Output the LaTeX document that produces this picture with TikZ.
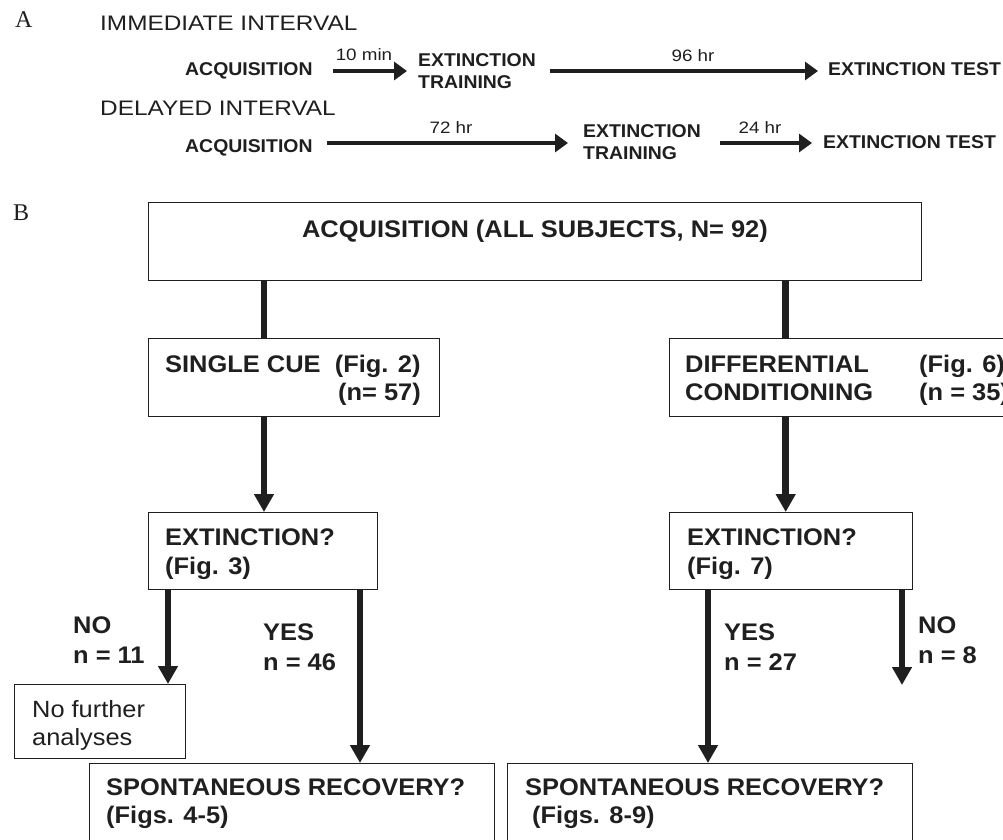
\documentclass[tikz,border=0pt]{standalone}
\usepackage{fontspec}
\setmainfont{Liberation Sans}
\newfontfamily\famA[FakeStretch=1.05]{Liberation Sans}
\newfontfamily\famB[FakeStretch=1.06]{Liberation Sans}
\newfontfamily\famH[FakeStretch=1.16]{Liberation Sans}
\newfontfamily\famL[FakeStretch=1.14]{Liberation Sans}
\newfontfamily\famN[FakeStretch=1.08]{Liberation Sans}
\newfontfamily\famS{Liberation Serif}
\newcommand\pafont{\famA\bfseries\fontsize{18.5}{22}\selectfont}
\newcommand\bbfont{\famB\bfseries\fontsize{24}{28}\selectfont}
\newcommand\hdfont{\famH\fontsize{21}{25}\selectfont}
\newcommand\lbfont{\famL\fontsize{16.5}{20}\selectfont}
\newcommand\nffont{\famN\fontsize{23.5}{28}\selectfont}
\newcommand\srfont{\famS\fontsize{24}{28}\selectfont}
\usetikzlibrary{arrows.meta}
\colorlet{ink}{black!88}
\tikzset{
  box/.style={draw=ink, line width=1.3pt, inner sep=0pt, anchor=north west},
  txt/.style={inner sep=0pt, anchor=base west, text=ink},
  txtc/.style={txt, anchor=base},
  txte/.style={txt, anchor=base east},
  arrA/.style={draw=ink, line width=3.5pt, -{Triangle[length=13pt,width=18pt]}},
  arrB/.style={draw=ink, line width=6.5pt, -{Triangle[length=18pt,width=19pt]}},
  lnB/.style={draw=ink, line width=6.5pt}
}
\begin{document}
\begin{tikzpicture}[x=1pt,y=-1pt]
\useasboundingbox (0,0) rectangle (1003,839);
\clip (0,0) rectangle (1003,839);

% ---------- Panel A ----------
\node[txt, font=\srfont] (labA) at (15,27) {A};
\node[txt, font=\hdfont] (imm) at (100,30) {IMMEDIATE INTERVAL};
\node[txt, font=\pafont] (acq1) at (185,75) {ACQUISITION};
\node[txtc, font=\lbfont] (l10) at (364,60) {10 min};
\node[txt, font=\pafont] (et1a) at (418,66) {EXTINCTION};
\node[txt, font=\pafont] (et1b) at (418,88) {TRAINING};
\node[txtc, font=\lbfont] (l96) at (693,61) {96 hr};
\node[txt, font=\pafont] (tst1) at (828,75) {EXTINCTION TEST};
\coordinate (a1s) at (333,71); \coordinate (a1e) at (407,71);
\coordinate (a2s) at (550,71); \coordinate (a2e) at (818,71);
\draw[arrA] (a1s) -- (a1e);
\draw[arrA] (a2s) -- (a2e);

\node[txt, font=\hdfont] (del) at (100,115) {DELAYED INTERVAL};
\node[txt, font=\pafont] (acq2) at (185,152) {ACQUISITION};
\node[txtc, font=\lbfont] (l72) at (451,133) {72 hr};
\node[txt, font=\pafont] (et2a) at (583,137) {EXTINCTION};
\node[txt, font=\pafont] (et2b) at (583,159) {TRAINING};
\node[txtc, font=\lbfont] (l24) at (760,133) {24 hr};
\node[txt, font=\pafont] (tst2) at (823,148) {EXTINCTION TEST};
\coordinate (b1s) at (327,143); \coordinate (b1e) at (568,143);
\coordinate (b2s) at (720,143); \coordinate (b2e) at (812,143);
\draw[arrA] (b1s) -- (b1e);
\draw[arrA] (b2s) -- (b2e);

% ---------- Panel B ----------
\node[txt, font=\srfont] (labB) at (13,220) {B};

\node[box, minimum width=773pt, minimum height=78pt] (top) at (148,202) {};
\node[txtc, font=\bbfont] (topt) at (535,237) {ACQUISITION (ALL SUBJECTS, N= 92)};

\node[box, minimum width=291pt, minimum height=78pt] (sc) at (148,338) {};
\node[txt, font=\bbfont] (sct1) at (165,372) {SINGLE CUE\ \ (Fig. 2)};
\node[txte, font=\bbfont] (sct2) at (421,400) {(n= 57)};

\node[box, minimum width=360pt, minimum height=78pt] (dc) at (669,338) {};
\node[txt, font=\bbfont] (dct1) at (685,372) {DIFFERENTIAL};
\node[txt, font=\bbfont] (dct2) at (685,400) {CONDITIONING};
\node[txt, font=\bbfont] (dct3) at (919,372) {(Fig. 6)};
\node[txt, font=\bbfont] (dct4) at (919,400) {(n = 35)};

\node[box, minimum width=229pt, minimum height=77pt] (exl) at (148,512) {};
\node[txt, font=\bbfont] (exlt1) at (165,545) {EXTINCTION?};
\node[txt, font=\bbfont] (exlt2) at (165,574) {(Fig. 3)};

\node[box, minimum width=243pt, minimum height=77pt] (exr) at (669,512) {};
\node[txt, font=\bbfont] (exrt1) at (687,545) {EXTINCTION?};
\node[txt, font=\bbfont] (exrt2) at (687,574) {(Fig. 7)};

\node[box, minimum width=171pt, minimum height=74pt] (nf) at (14,684) {};
\node[txt, font=\nffont] (nft1) at (32,717) {No further};
\node[txt, font=\nffont] (nft2) at (32,745) {analyses};

\node[box, minimum width=405pt, minimum height=120pt] (srl) at (89,763) {};
\node[txt, font=\bbfont] (srlt1) at (106,795) {SPONTANEOUS RECOVERY?};
\node[txt, font=\bbfont] (srlt2) at (106,823) {(Figs. 4-5)};

\node[box, minimum width=405pt, minimum height=120pt] (srr) at (507,763) {};
\node[txt, font=\bbfont] (srrt1) at (525,795) {SPONTANEOUS RECOVERY?};
\node[txt, font=\bbfont] (srrt2) at (532,823) {(Figs. 8-9)};

% branch labels
\node[txt, font=\bbfont] (nol) at (73,633) {NO};
\node[txt, font=\bbfont] (nol2) at (73,663) {n = 11};
\node[txt, font=\bbfont] (yesl) at (263,640) {YES};
\node[txt, font=\bbfont] (yesl2) at (263,670) {n = 46};
\node[txt, font=\bbfont] (yesr) at (724,640) {YES};
\node[txt, font=\bbfont] (yesr2) at (724,670) {n = 27};
\node[txt, font=\bbfont] (nor) at (918,633) {NO};
\node[txt, font=\bbfont] (nor2) at (918,663) {n = 8};

% connectors
\coordinate (xL) at (264,0);
\coordinate (xR) at (785.7,0);
\coordinate (xNL) at (168,0);
\coordinate (xYL) at (360,0);
\coordinate (xYR) at (708,0);
\coordinate (xNR) at (902,0);
\coordinate (noEnd) at (902,685);

\draw[lnB] (top.south -| xL) -- (sc.north -| xL);
\draw[lnB] (top.south -| xR) -- (dc.north -| xR);
\draw[arrB] (sc.south -| xL) -- (exl.north -| xL);
\draw[arrB] (dc.south -| xR) -- (exr.north -| xR);
\draw[arrB] (exl.south -| xNL) -- (nf.north -| xNL);
\draw[arrB] (exl.south -| xYL) -- (srl.north -| xYL);
\draw[arrB] (exr.south -| xYR) -- (srr.north -| xYR);
\draw[arrB] (exr.south -| xNR) -- (noEnd);
\end{tikzpicture}
\end{document}
